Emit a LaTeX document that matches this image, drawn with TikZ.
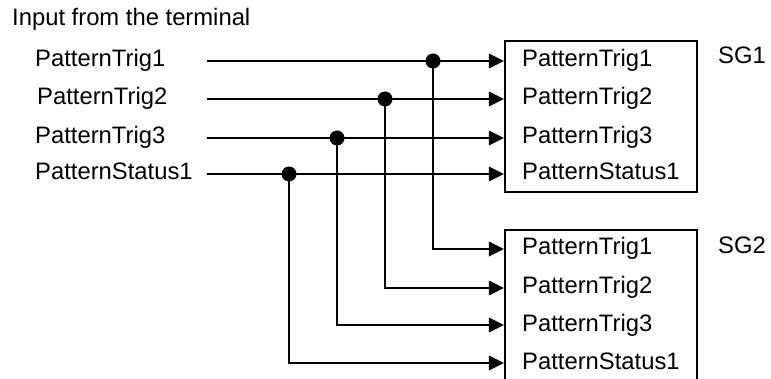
\documentclass[tikz,border=0pt]{standalone}
\usepackage{fontspec}
\setmainfont{Liberation Sans}
\usetikzlibrary{arrows.meta, positioning}

\begin{document}
\begin{tikzpicture}[
    x=1pt, y=-1pt,
    every node/.style={font=\fontsize{23.8}{28}\selectfont, inner sep=0pt},
    lbl/.style={anchor=west, text height=17pt, text depth=5pt},
    sig/.style={line width=2.9pt},
    arrow/.style={sig, -{Triangle[length=15pt, width=14pt]}},
    junction/.style={circle, fill=black, minimum size=15pt, inner sep=0pt},
    sgbox/.style={rectangle, draw, line width=2.1pt, minimum width=192pt}
]
\useasboundingbox (0,0) rectangle (771,379);

% Title
\node[lbl] (title) at (12,20) {Input from the terminal};

% Terminal inputs
\node[lbl] (in1) at (35,61) {PatternTrig1};
\node[lbl] (in2) at (37,99) {PatternTrig2};
\node[lbl] (in3) at (35,138) {PatternTrig3};
\node[lbl] (in4) at (35,174) {PatternStatus1};
\coordinate (s1) at (207,61);
\coordinate (s2) at (207,99);
\coordinate (s3) at (207,138);
\coordinate (s4) at (207,174);

% SG1
\node[sgbox, minimum height=151pt] (sg1) at (601,116.5) {};
\node[lbl] (sg1name) at (718,58) {SG1};
\node[lbl] (a1) at (522,61) {PatternTrig1};
\node[lbl] (a2) at (522,99) {PatternTrig2};
\node[lbl] (a3) at (522,138) {PatternTrig3};
\node[lbl] (a4) at (522,174) {PatternStatus1};

% SG2 (box runs past the bottom edge)
\node[sgbox, minimum height=170pt] (sg2) at (601,315) {};
\node[lbl] (sg2name) at (718,248) {SG2};
\node[lbl] (b1) at (522,249) {PatternTrig1};
\node[lbl] (b2) at (522,288) {PatternTrig2};
\node[lbl] (b3) at (522,325) {PatternTrig3};
\node[lbl] (b4) at (522,363) {PatternStatus1};

% Branch points
\node[junction] (j1) at (433,61) {};
\node[junction] (j2) at (385,99) {};
\node[junction] (j3) at (337,138) {};
\node[junction] (j4) at (289,174) {};

% Arrows
\foreach \i in {1,...,4}{
  \draw[arrow] (s\i) -- (a\i.west -| sg1.west);
  \draw[arrow] (j\i.center) |- (b\i.west -| sg2.west);
}

\end{tikzpicture}
\end{document}
